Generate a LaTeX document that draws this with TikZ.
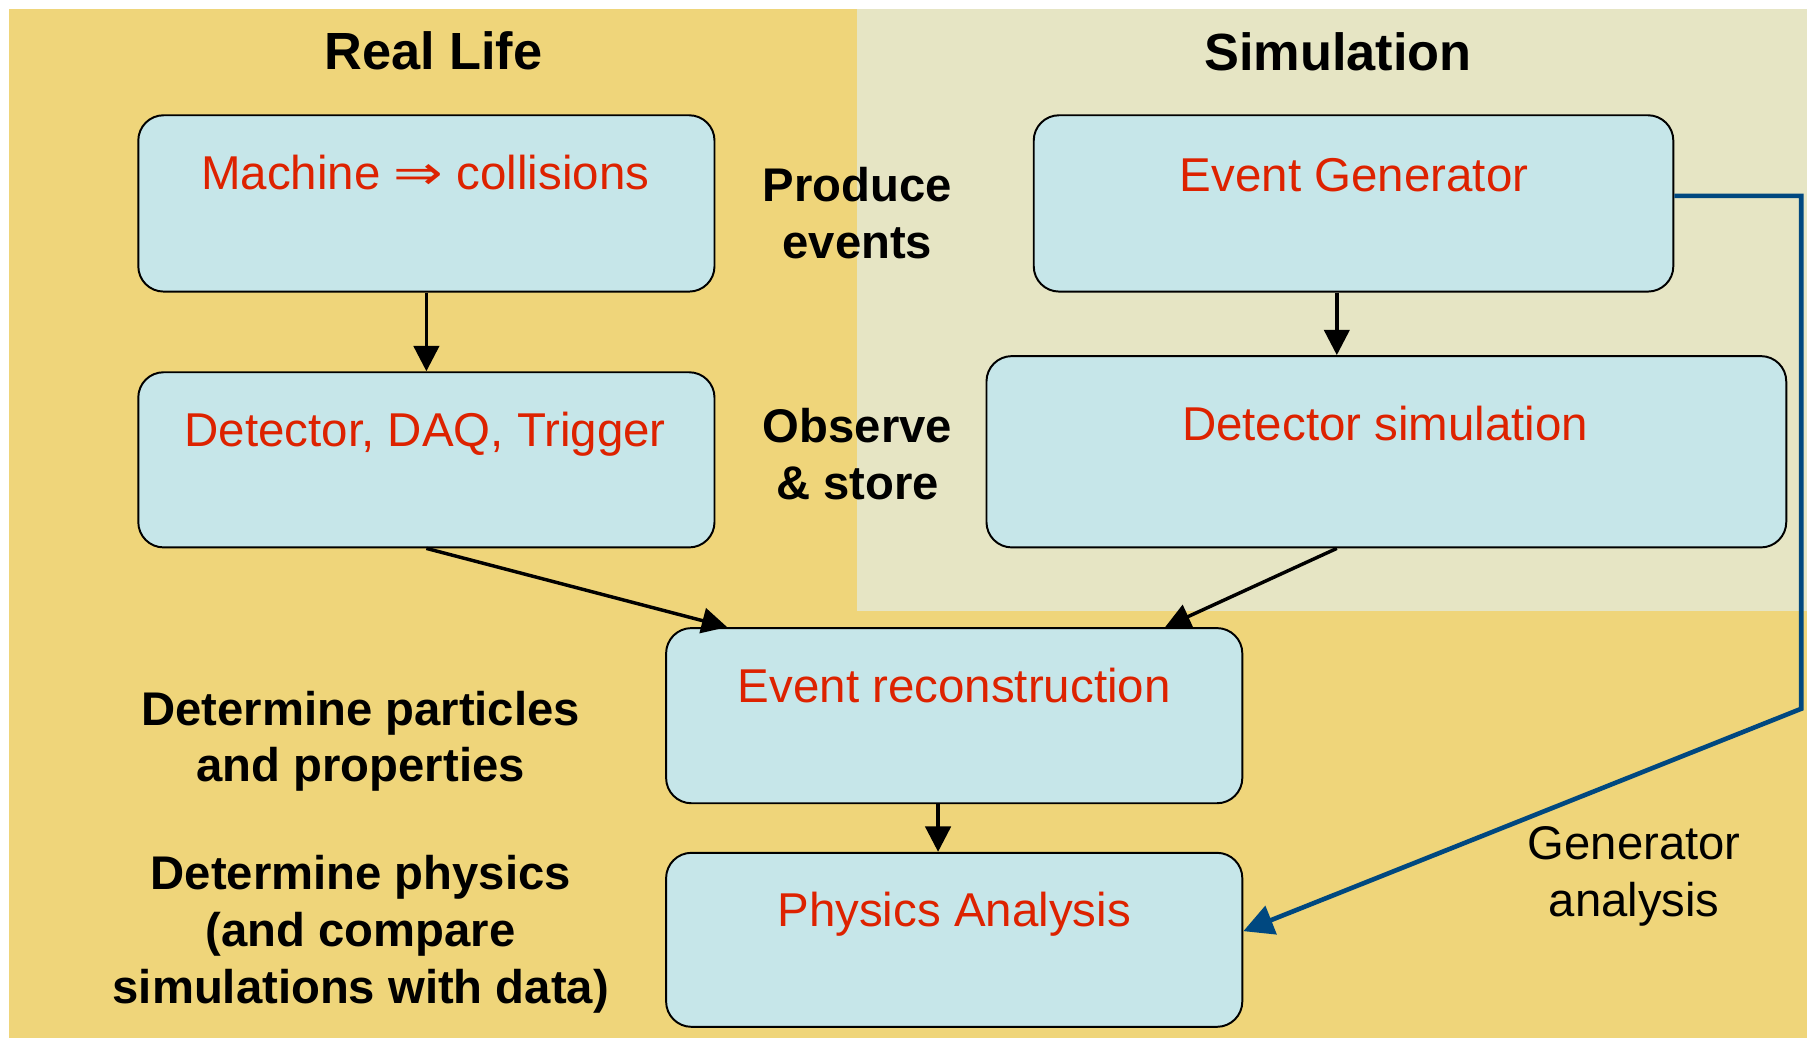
\documentclass[tikz,border=0pt]{standalone}
\usepackage{fontspec}
\setmainfont{Liberation Sans}
\newfontfamily\arrowfont{DejaVu Sans}
\usetikzlibrary{arrows.meta}
\definecolor{realbg}{RGB}{239,213,122}
\definecolor{simbg}{RGB}{230,229,196}
\definecolor{boxfill}{RGB}{198,230,233}
\definecolor{boxtext}{RGB}{221,34,0}
\definecolor{genline}{RGB}{0,72,128}
\begin{document}
\begin{tikzpicture}[x=0.5pt,y=-0.5pt,
  stage/.style={draw=black,line width=0.85pt,fill=boxfill,rounded corners=11pt,inner sep=0pt},
  stagetext/.style={anchor=base,text=boxtext,inner sep=0pt,font=\fontsize{20.6}{25}\selectfont},
  heading/.style={anchor=base,inner sep=0pt,font=\fontsize{22.7}{27}\selectfont\bfseries},
  note/.style={anchor=north,inner sep=0pt,align=center,font=\fontsize{20.5}{24.6}\selectfont\bfseries},
  plainnote/.style={anchor=north,inner sep=0pt,align=center,font=\fontsize{20.5}{24.6}\selectfont},
  flow/.style={line width=1.5pt,-{Triangle[length=11pt,width=11pt]}},
  genflow/.style={draw=genline,line width=2pt,miter limit=10,-{Triangle[length=13pt,width=13pt]}}]
\useasboundingbox (0,0) rectangle (1568,902);
% backgrounds: real-life panel and simulation panel
\fill[white] (0,0) rectangle (1568,902);
\fill[realbg] (8,8) rectangle (1568,901);
\fill[simbg] (744,8) rectangle (1568,530);

% column headings
\node[heading] (hreal) at (376,60) {Real Life};
\node[heading] (hsim) at (1161,61) {Simulation};

% processing stages
\node[stage,minimum width=250pt,minimum height=76.5pt] (mach) at (370,176.5) {};
\node[stage,minimum width=250pt,minimum height=76pt] (det) at (370,399) {};
\node[stage,minimum width=277.5pt,minimum height=76.5pt] (gen) at (1174.5,176.5) {};
\node[stage,minimum width=347pt,minimum height=83pt] (detsim) at (1203,392) {};
\node[stage,minimum width=250pt,minimum height=76pt] (reco) at (828,621) {};
\node[stage,minimum width=250pt,minimum height=75.5pt] (ana) at (828,815.5) {};

% stage titles
\node[stagetext] (tmach) at (369,164) {Machine \scalebox{1.25}[1]{\arrowfont ⇒} collisions};
\node[stagetext] (tdet) at (369,387) {Detector, DAQ, Trigger};
\node[stagetext] (tgen) at (1175,166) {Event Generator};
\node[stagetext] (tdetsim) at (1202,382) {Detector simulation};
\node[stagetext] (treco) at (828,610) {Event reconstruction};
\node[stagetext] (tana) at (828,804) {Physics Analysis};

% side notes
\node[note] (nprod) at (744,145) {Produce\\events};
\node[note] (nobs) at (744,354) {Observe\\\& store};
\node[note] (npart) at (313,599) {Determine particles\\and properties};
\node[note] (nphys) at (313,742) {Determine physics\\(and compare\\simulations with data)};
\node[plainnote] (ngen) at (1418,717) {Generator\\analysis};

% connector guide points
\coordinate (xsim) at (1160,0);
\coordinate (xrecoL) at (631,0);
\coordinate (xrecoR) at (1011,0);
\coordinate (xana) at (814,0);
\coordinate (g1) at (1563,170);
\coordinate (g2) at (1563,615);
\coordinate (gtip) at (0,808);

% data flow
\draw[flow] (mach.south) -- (det.north);
\draw[flow] (gen.south -| xsim) -- (detsim.north -| xsim);
\draw[flow] (det.south) -- (reco.north -| xrecoL);
\draw[flow] (detsim.south -| xsim) -- (reco.north -| xrecoR);
\draw[flow] (reco.south -| xana) -- (ana.north -| xana);
\draw[genflow] (gen.east |- g1) -- (g1) -- (g2) -- (ana.east |- gtip);
\end{tikzpicture}
\end{document}
